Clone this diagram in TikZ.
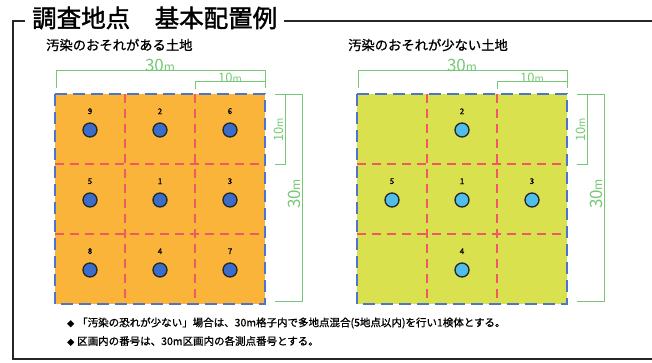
\documentclass[tikz,border=0pt]{standalone}
\usepackage{fontspec}
\setmainfont[AutoFakeBold=2]{Noto Sans CJK JP}
\newfontfamily\heavyjp[FakeBold=1.6]{Noto Sans CJK JP}
\newfontfamily\semijp[FakeBold=1]{Noto Sans CJK JP}
\usetikzlibrary{positioning}

\definecolor{orangefill}{RGB}{250,180,58}
\definecolor{limefill}{RGB}{218,225,78}
\definecolor{edgeblue}{RGB}{78,118,200}
\definecolor{divred}{RGB}{240,88,100}
\definecolor{dimgreen}{RGB}{118,200,118}
\definecolor{dotblue}{RGB}{58,108,200}
\definecolor{dotcyan}{RGB}{80,190,235}

\begin{document}
\begin{tikzpicture}[x=1pt,y=-1pt,
    frame/.style={draw=black!85, line width=1.8pt},
    cellgrid/.style={draw=divred, line width=1.3pt, dash pattern=on 9pt off 6pt},
    border/.style={draw=edgeblue, line width=1.6pt, dash pattern=on 12pt off 6pt},
    dim/.style={draw=dimgreen, line width=1pt},
    dimtext/.style={text=dimgreen, inner sep=0.5pt},
    num/.style={font=\semijp\fontsize{8}{8}\selectfont, inner sep=0pt},
    spot/.style={circle, draw=black!85, line width=1.3pt, minimum size=14pt, inner sep=0pt},
    note/.style={anchor=west, inner sep=0pt, font=\semijp\fontsize{10.5}{10.5}\selectfont}]
    \useasboundingbox (0,0) rectangle (652,363);

    % frame with title
    \node (title) [anchor=west, inner sep=7pt, font=\heavyjp\fontsize{24.5}{24.5}\selectfont] at (25,18) {調査地点　基本配置例};
    \coordinate (fl) at (13,21);
    \coordinate (fb) at (13,359);
    \coordinate (fr) at (652,359);
    \coordinate (ft) at (652,21);
    \draw [frame] (title.west |- fl) -- (fl) -- (fb) -- (fr);
    \draw [frame] (title.east |- ft) -- (ft);

    \node (subl) [anchor=west, inner sep=0pt, font=\semijp\fontsize{13.3}{13.3}\selectfont] at (46,45) {汚染のおそれがある土地};
    \node (subr) [anchor=west, inner sep=0pt, font=\semijp\fontsize{13.3}{13.3}\selectfont] at (348,45) {汚染のおそれが少ない土地};

    % the two 30m grids
    \foreach \gx/\fc in {55/orangefill, 357/limefill} {
      \begin{scope}[shift={(\gx,94)}]
        \fill [\fc] (0,0) rectangle (210,210);
        \foreach \i in {70,140} {
          \draw [cellgrid] (\i,0) -- (\i,210);
          \draw [cellgrid] (0,\i) -- (210,\i);
        }
        \draw [border] (0,0) rectangle (210,210);
        % dimensions
        \draw [dim] (1,-6) -- (1,-23) -- (210,-23) -- (210,-6);
        \draw [dim] (140,-5) -- (140,-12) -- (210,-12);
        \draw [dim] (220,1) -- (230,1) -- (230,71) -- (220,71);
        \draw [dim] (230,1) -- (247,1) -- (247,207) -- (220,207);
        \node [dimtext, anchor=south, font=\fontsize{17}{17}\selectfont] at (105,-22) {30{\fontsize{12}{12}\selectfont m}};
        \node [dimtext, anchor=south, font=\fontsize{13}{13}\selectfont] at (175,-11) {10{\fontsize{10}{10}\selectfont m}};
        \node [dimtext, anchor=south, rotate=90, font=\fontsize{13}{13}\selectfont] at (229,36) {10{\fontsize{10}{10}\selectfont m}};
        \node [dimtext, anchor=south, rotate=90, font=\fontsize{17}{17}\selectfont] at (246,100) {30{\fontsize{12}{12}\selectfont m}};
      \end{scope}
    }

    % survey points, left
    \foreach \n/\c/\r in {9/0/0, 2/1/0, 6/2/0, 5/0/1, 1/1/1, 3/2/1, 8/0/2, 4/1/2, 7/2/2} {
      \node (a\n) [spot, fill=dotblue] at (90+70*\c, 130+70*\r) {};
      \node (na\n) [num, above=8pt of a\n] {\n};
    }
    % survey points, right
    \foreach \n/\c/\r in {2/1/0, 5/0/1, 1/1/1, 3/2/1, 4/1/2} {
      \node (b\n) [spot, fill=dotcyan] at (392+70*\c, 130+70*\r) {};
      \node (nb\n) [num, above=8pt of b\n] {\n};
    }

    % notes
    \node (notea) [note] at (67,323) {{\fontsize{7}{7}\selectfont ◆}\hspace{3pt}「汚染の恐れが少ない」場合は、30m格子内で多地点混合(5地点以内)を行い1検体とする。};
    \node (noteb) [note] at (67,341) {{\fontsize{7}{7}\selectfont ◆}\hspace{3pt}区画内の番号は、30m区画内の各測点番号とする。};
  \end{tikzpicture}
\end{document}
